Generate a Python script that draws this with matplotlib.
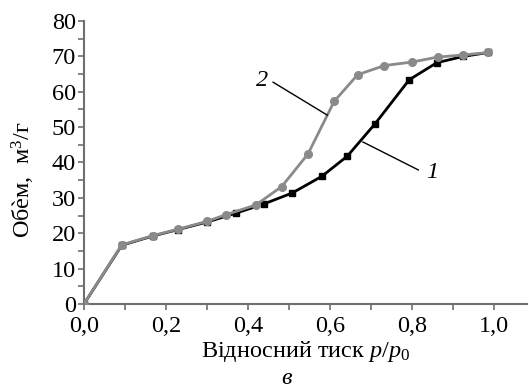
import matplotlib
matplotlib.use("Agg")
import matplotlib.pyplot as plt
from matplotlib.ticker import MultipleLocator, FuncFormatter

plt.rcParams['font.family'] = ['Liberation Serif', 'DejaVu Serif']
plt.rcParams['mathtext.fontset'] = 'custom'
plt.rcParams['mathtext.rm'] = 'Liberation Serif'
plt.rcParams['mathtext.it'] = 'Liberation Serif:italic'

# Series 1 (black squares)
x1 = [0.0, 0.092, 0.167, 0.228, 0.301, 0.371, 0.439, 0.508, 0.580, 0.642, 0.710, 0.793, 0.860, 0.925, 0.986]
y1 = [0.0, 16.6, 19.2, 21.0, 23.2, 25.7, 28.3, 31.4, 36.1, 41.8, 51.0, 63.4, 68.2, 70.0, 71.1]
# Series 2 (gray circles)
x2 = [0.0, 0.092, 0.167, 0.228, 0.301, 0.345, 0.419, 0.482, 0.546, 0.610, 0.667, 0.732, 0.800, 0.862, 0.925, 0.986]
y2 = [0.0, 16.7, 19.3, 21.1, 23.4, 25.2, 28.0, 33.2, 42.4, 57.3, 64.8, 67.4, 68.4, 69.8, 70.4, 71.1]

xticks = [0.0, 0.2, 0.4, 0.6, 0.8, 1.0]
yticks = [0, 10, 20, 30, 40, 50, 60, 70, 80]

FS = 17.5

fig = plt.figure(figsize=(5.29, 3.92), dpi=100)
ax = fig.add_axes([84/529, (392-304)/392, 443/529, 283/392])

ax.plot(x1, y1, color='black', lw=2.0, marker='s', ms=5, mfc='black', mec='black', zorder=3)
ax.plot(x2, y2, color='#8a8a8a', lw=2.0, marker='o', ms=5.5, mfc='#8a8a8a', mec='#8a8a8a', zorder=4)

ax.set_xlim(0, 1.08)
ax.set_ylim(0, 80)
ax.set_xticks(xticks)
ax.set_yticks(yticks)
ax.xaxis.set_minor_locator(MultipleLocator(0.1))
ax.yaxis.set_minor_locator(MultipleLocator(5))
ax.xaxis.set_major_formatter(FuncFormatter(lambda v, p: f"{v:.1f}".replace('.', ',')))

for s in ['top', 'right']:
    ax.spines[s].set_visible(False)
for s in ['left', 'bottom']:
    ax.spines[s].set_color('#6e6e6e')
    ax.spines[s].set_linewidth(1.5)
ax.tick_params(which='both', direction='out', color='#6e6e6e', width=1.2, length=4, labelsize=FS, pad=2)
ax.tick_params(axis='x', which='both', pad=5)

ax.set_ylabel('Обѐм,  м$^{3}$/г', fontsize=FS)
ax.yaxis.set_label_coords(-0.106, 0.438)
ax.set_xlabel(r'Відносний тиск $\mathit{p}/\mathit{p}_{\mathrm{0}}$', fontsize=FS, labelpad=1)

# annotations
ax.plot([0.461, 0.593], [62.7, 53.4], color='black', lw=1.0, zorder=5)
ax.text(0.434, 63.3, '2', fontsize=FS, style='italic', ha='center', va='center')
ax.plot([0.680, 0.815], [45.8, 37.9], color='black', lw=1.0, zorder=5)
ax.text(0.849, 37.3, '1', fontsize=FS, style='italic', ha='center', va='center')

fig.text(287/529, 1 - 378/392, 'в', fontsize=FS, style='italic', ha='center', va='center')

fig.savefig('out.png', dpi=100)
